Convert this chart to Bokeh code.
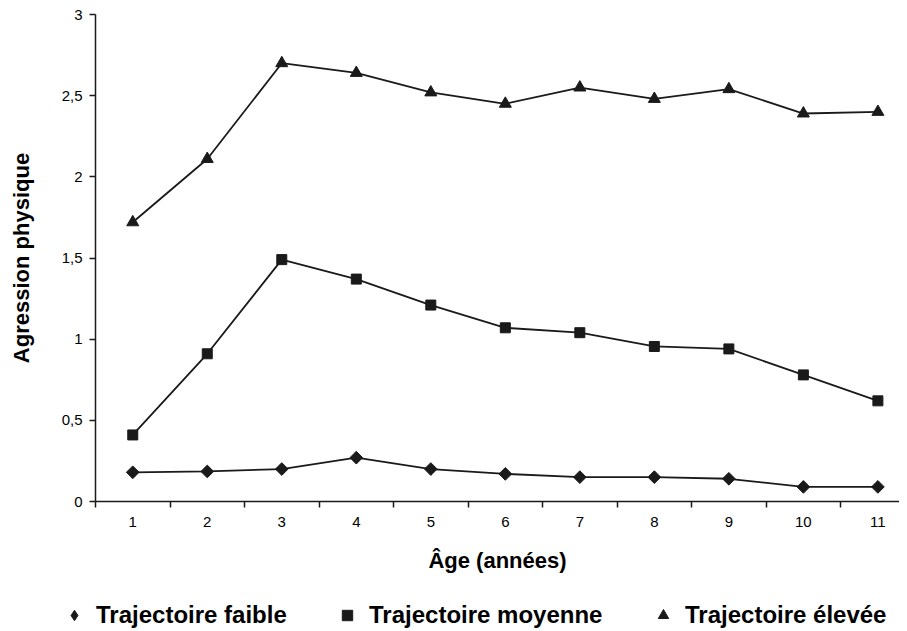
import math
from bokeh.plotting import figure
from bokeh.models import Range1d, FixedTicker, Legend, LegendItem
from bokeh.layouts import column
from bokeh.embed import file_html
from bokeh.resources import INLINE

ages = [1, 2, 3, 4, 5, 6, 7, 8, 9, 10, 11]
age_labels = ["1", "2", "3", "4", "5", "6", "7", "8", "9", "10", "11"]
faible = [0.18, 0.185, 0.20, 0.27, 0.20, 0.17, 0.15, 0.15, 0.14, 0.09, 0.09]
moyenne = [0.41, 0.91, 1.49, 1.37, 1.21, 1.07, 1.04, 0.955, 0.94, 0.78, 0.62]
elevee = [1.72, 2.11, 2.70, 2.64, 2.52, 2.45, 2.55, 2.48, 2.54, 2.39, 2.40]
y_ticks = [0, 0.5, 1, 1.5, 2, 2.5, 3]
y_tick_labels = ["0", "0,5", "1", "1,5", "2", "2,5", "3"]
series_names = ["Trajectoire faible", "Trajectoire moyenne", "Trajectoire élevée"]
x_title = "Âge (années)"
y_title = "Agression physique"

FONT = "Liberation Sans"
INK = "#1a1a1a"

p = figure(width=899, height=580, output_backend="svg",
           toolbar_location=None, x_range=Range1d(0.5, 11.29),
           y_range=Range1d(0, 3), min_border_left=95, min_border_right=0,
           min_border_top=14, min_border_bottom=79)
p.outline_line_color = None
p.grid.grid_line_color = None
p.background_fill_color = "white"

# x axis
xa = p.xaxis[0]
xa.ticker = FixedTicker(ticks=ages, minor_ticks=[a - 0.5 for a in ages] + [ages[-1] + 0.5])
xa.major_label_overrides = {a: l for a, l in zip(ages, age_labels)}
xa.major_tick_line_color = None
xa.major_tick_out = 6
xa.minor_tick_out = 6
xa.minor_tick_in = 0
xa.minor_tick_line_color = INK
xa.minor_tick_line_width = 1.5
xa.axis_line_color = INK
xa.axis_line_width = 1.5
xa.major_label_standoff = 9
xa.major_label_text_font = FONT
xa.major_label_text_font_size = "15px"
xa.major_label_text_color = "black"
xa.axis_label = x_title
xa.axis_label_text_font = FONT
xa.axis_label_text_font_style = "bold"
xa.axis_label_text_font_size = "22px"
xa.axis_label_text_color = "black"
xa.axis_label_standoff = 18

# y axis
ya = p.yaxis[0]
ya.ticker = FixedTicker(ticks=y_ticks, minor_ticks=[])
ya.major_label_overrides = {t: l for t, l in zip(y_ticks, y_tick_labels)}
ya.major_tick_out = 6
ya.major_tick_in = 0
ya.major_tick_line_color = INK
ya.major_tick_line_width = 1.5
ya.minor_tick_line_color = None
ya.axis_line_color = INK
ya.axis_line_width = 1.5
ya.major_label_standoff = 7
ya.major_label_text_font = FONT
ya.major_label_text_font_size = "15px"
ya.major_label_text_color = "black"
ya.axis_label = y_title
ya.axis_label_text_font = FONT
ya.axis_label_text_font_style = "bold"
ya.axis_label_text_font_size = "22px"
ya.axis_label_text_color = "black"
ya.axis_label_standoff = 25

# legend strip below the chart
q = figure(width=899, height=51, output_backend="svg", toolbar_location=None,
           x_range=Range1d(0, 1), y_range=Range1d(10, 11),
           x_axis_location=None, y_axis_location=None,
           min_border_left=0, min_border_right=0, min_border_top=0, min_border_bottom=0)
q.outline_line_color = None
q.grid.grid_line_color = None
try:
    p.frame_align = False
    q.frame_align = False
    offset = 0
except Exception:
    offset = 95

# (marker, plot size, plot angle, legend marker)
markers = [("square", 9, math.pi / 4, "diamond"),
           ("square", 10, 0, "square"),
           ("triangle", 12, 0, "triangle")]
legend_x = [61, 334, 650]
for name, vals, (mk, sz, ang, lmk), lx in zip(series_names, [faible, moyenne, elevee],
                                              markers, legend_x):
    p.line(ages, vals, line_color=INK, line_width=1.8)
    p.scatter(ages, vals, marker=mk, size=sz, angle=ang, fill_color=INK, line_color=INK)
    lr = q.scatter(ages, vals, marker=lmk, size=10, fill_color=INK, line_color=INK)
    lg = Legend(items=[LegendItem(label=name, renderers=[lr])],
                location=(max(lx - offset, 0), 2),
                orientation="horizontal",
                label_text_font=FONT, label_text_font_style="bold",
                label_text_font_size="24px", label_text_color="black",
                glyph_width=26, glyph_height=26, label_height=26, label_standoff=9,
                border_line_color=None, background_fill_alpha=0,
                margin=0, padding=0)
    q.add_layout(lg, "center")

layout = column(p, q, spacing=0)
open("out.html", "w").write(file_html(layout, INLINE))
